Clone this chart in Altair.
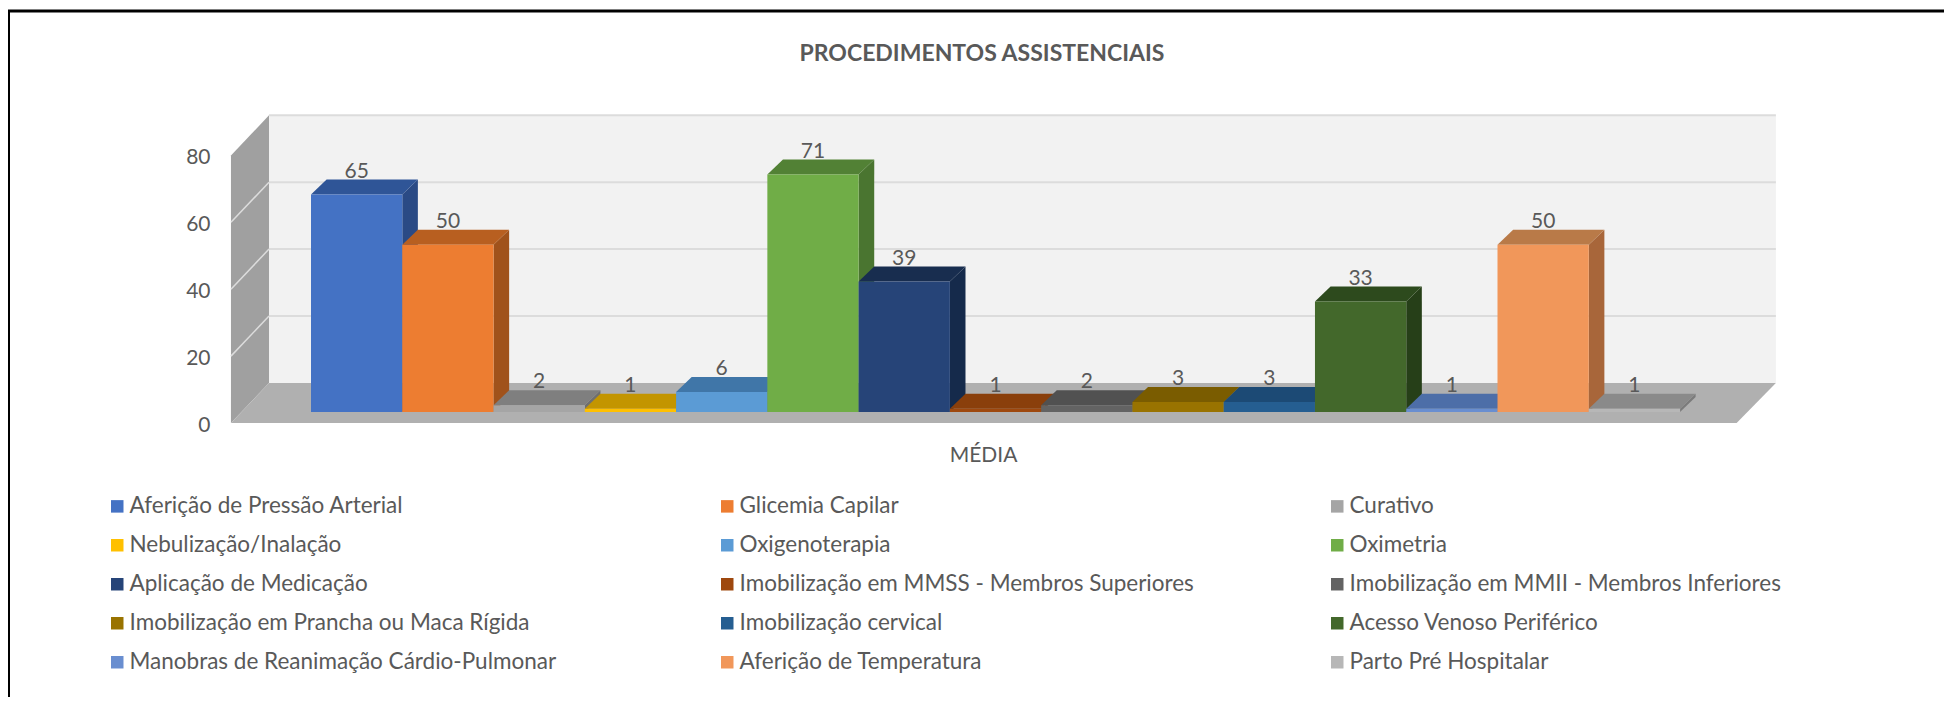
import altair as alt
import pandas as pd

# ---- values ----
series = ["Aferição de Pressão Arterial", "Glicemia Capilar", "Curativo",
          "Nebulização/Inalação", "Oxigenoterapia", "Oximetria",
          "Aplicação de Medicação", "Imobilização em MMSS - Membros Superiores",
          "Imobilização em MMII - Membros Inferiores",
          "Imobilização em Prancha ou Maca Rígida", "Imobilização cervical",
          "Acesso Venoso Periférico", "Manobras de Reanimação Cárdio-Pulmonar",
          "Aferição de Temperatura", "Parto Pré Hospitalar"]
values = [65, 50, 2, 1, 6, 71, 39, 1, 2, 3, 3, 33, 1, 50, 1]
front_colors = ["#4472c4", "#ed7d31", "#a5a5a5", "#ffc000", "#5b9bd5", "#70ad47",
                "#264478", "#9e480e", "#636363", "#997300", "#255e91", "#43682b",
                "#698ed0", "#f1975a", "#b7b7b7"]
top_colors = ["#2f5597", "#b85f20", "#7f7f7f", "#c39500", "#4076a8", "#528135",
              "#182d4f", "#8a3f0b", "#515151", "#7a5c00", "#1c4a75", "#2d4a1d",
              "#4d6ea8", "#b97a48", "#8a8a8a"]
side_colors = ["#2a4a85", "#a0521b", "#6f6f6f", "#a98200", "#38689a", "#4a7530",
               "#152a4b", "#763408", "#454545", "#6b5000", "#184068", "#263f18",
               "#41608f", "#a8663a", "#7b7b7b"]
y_ticks = [0, 20, 40, 60, 80]
grid_values = [20, 40, 60, 80]

# ---- layout ----
W, H = 1936, 689
X0, PXX = 303.0, 91.27      # canvas x of series 0, px per series
Y0, PXV = 404.0, 3.345      # canvas y of value 0, px per value unit
DX, DY = 15.6 / PXX, 15 / PXV       # bar depth in scale units
BACK, FRONT = 8.7, -3.3             # wall / floor depth in value units
XLF, XLB, XRB, XRF = -0.877, -0.46, 16.05, 15.62
TOPV = 80
FONT, TXT = "Lato", "#595959"

xs = alt.Scale(domain=[-X0 / PXX, (W - X0) / PXX], range=[0, W], nice=False, zero=False)
ys = alt.Scale(domain=[(Y0 - H) / PXV, Y0 / PXV], range=[H, 0], nice=False, zero=False)
X = lambda f="x", **k: alt.X(f + ":Q", scale=xs, axis=None, **k)
Y = lambda f="y", **k: alt.Y(f + ":Q", scale=ys, axis=None, **k)

front = pd.DataFrame({"s": series, "v": values,
                      "l": [float(i) for i in range(len(values))],
                      "r": [i + 1.0 for i in range(len(values))], "z": 0.0})
front["lab"] = front["v"] + DY
front["cx"] = front["l"] + 0.5

side_rows, top_rows = [], []
for i, (s, v) in enumerate(zip(series, values)):
    side_rows += [dict(s=s, c=side_colors[i], x=i + 1.0, y=v, y2=0.0),
                  dict(s=s, c=side_colors[i], x=i + 1 + DX, y=v + DY, y2=DY)]
    top_rows += [dict(s=s, c=top_colors[i], x=float(i), x2=i + 1.0, y=v),
                 dict(s=s, c=top_colors[i], x=i + DX, x2=i + 1 + DX, y=v + DY)]

back_wall = alt.Chart(pd.DataFrame([dict(x=XLB, x2=XRB, y=BACK, y2=TOPV + BACK)])).mark_rect(
    color="#f2f2f2").encode(x=X(), x2="x2:Q", y=Y(), y2="y2:Q")
left_wall = alt.Chart(pd.DataFrame([dict(x=XLF, y=TOPV + FRONT, y2=FRONT),
                                    dict(x=XLB, y=TOPV + BACK, y2=BACK)])).mark_area(
    color="#a0a0a0", interpolate="linear").encode(x=X(), y=Y(), y2="y2:Q")
floor = alt.Chart(pd.DataFrame([dict(y=FRONT, x=XLF, x2=XRF), dict(y=BACK, x=XLB, x2=XRB)])).mark_area(
    color="#b0b0b0", orient="horizontal", interpolate="linear").encode(x=X(), x2="x2:Q", y=Y())
grid_back = alt.Chart(pd.DataFrame({"y": [g + BACK for g in grid_values], "x": XLB, "x2": XRB})).mark_rule(
    color="#dcdcdc", strokeWidth=2).encode(x=X(), x2="x2:Q", y=Y())
grid_rows = []
for g in grid_values[:-1]:
    grid_rows += [dict(g=g, x=XLF, y=g + FRONT), dict(g=g, x=XLB, y=g + BACK)]
grid_left = alt.Chart(pd.DataFrame(grid_rows)).mark_line(color="#dcdcdc", strokeWidth=1.5).encode(
    x=X(), y=Y(), detail="g:N")

sides = alt.Chart(pd.DataFrame(side_rows)).mark_area(interpolate="linear").encode(
    x=X(), y=Y(), y2="y2:Q", color=alt.Color("c:N", scale=None), detail="s:N")
tops = alt.Chart(pd.DataFrame(top_rows)).mark_area(orient="horizontal", interpolate="linear").encode(
    x=X(), x2="x2:Q", y=Y(), color=alt.Color("c:N", scale=None), detail="s:N")
fronts = alt.Chart(front).mark_bar(binSpacing=0).encode(
    x=alt.X("l:Q", scale=xs, axis=alt.Axis(
        title="MÉDIA", labels=False, ticks=False, domain=False, grid=False,
        offset=-(H - 436), titlePadding=0, titleFont=FONT, titleFontSize=21, titleX=975,
        titleFontWeight="normal", titleColor=TXT)),
    x2="r:Q",
    y=alt.Y("v:Q", scale=ys, axis=alt.Axis(
        title=None, values=y_ticks, ticks=False, domain=False, grid=False,
        labelOffset=13, labelPadding=0, offset=-(210 - 8), labelFont=FONT,
        labelFontSize=21, labelColor=TXT)),
    y2="z:Q",
    color=alt.Color("s:N", scale=alt.Scale(domain=series, range=front_colors), sort=series,
                    legend=alt.Legend(title=None, orient="none", legendX=98, legendY=487,
                                      direction="horizontal", columns=3, gridAlign="all",
                                      columnPadding=132, rowPadding=16, symbolType="square",
                                      symbolSize=156, symbolStrokeWidth=0, labelOffset=1,
                                      labelLimit=0, symbolLimit=0, labelFont=FONT,
                                      labelFontSize=22.5, labelColor=TXT, values=series)))
labels = alt.Chart(front).mark_text(font=FONT, fontSize=21, color=TXT, baseline="alphabetic", dy=-2).encode(
    x=X("cx"), y=Y("lab"), text="v:Q")
frame_top = alt.Chart(pd.DataFrame({"a": [0]})).mark_rule(color="black", strokeWidth=3).encode(
    x=alt.value(0), x2=alt.value(W), y=alt.value(3))
frame_left = alt.Chart(pd.DataFrame({"a": [0]})).mark_rule(color="black", strokeWidth=2).encode(
    x=alt.value(1), y=alt.value(2), y2=alt.value(H))

chart = alt.layer(back_wall, left_wall, floor, grid_back, grid_left, sides, tops, fronts, labels,
                  frame_top, frame_left).resolve_axis(x="independent", y="independent").properties(
    width=W, height=H, padding=0, autosize=alt.AutoSizeParams(type="none"), background="white",
    title=alt.TitleParams("PROCEDIMENTOS ASSISTENCIAIS", font=FONT, fontSize=23, fontWeight="bold",
                          color=TXT, anchor="middle", offset=-58, dx=6),
).configure_view(stroke=None)

chart.save("out.html", embed_options={"renderer": "svg", "actions": False})
